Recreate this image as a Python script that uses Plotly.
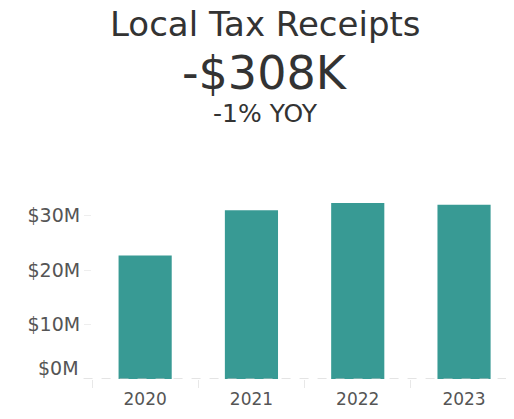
import plotly.graph_objects as go

years = ["2020", "2021", "2022", "2023"]
receipts = [22.7e6, 31.0e6, 32.35e6, 32.04e6]
ytick_vals = [10e6, 20e6, 30e6]
ytick_text = ["$10M", "$20M", "$30M"]
title_text = "Local Tax Receipts"
delta_text = "-$308K"
pct_text = "-1% YOY"

FONT = "DejaVu Sans"
BAR = "#389a94"

fig = go.Figure()
fig.add_trace(go.Bar(x=years, y=receipts, marker=dict(color=BAR, line=dict(width=0)),
                     hovertemplate="%{x}: %{y:$,.0f}<extra></extra>"))

def py(p):
    return (379 - p) / 185.0

XC = (265 - 92) / 422

fig.update_layout(
    width=514, height=419,
    margin=dict(l=84, r=8, t=186, b=48),
    paper_bgcolor="white", plot_bgcolor="white",
    showlegend=False, bargap=0.5,
    font=dict(family=FONT, color="#555555"),
    xaxis=dict(range=[-0.5, 3.47], showgrid=False, zeroline=False, showline=False,
               ticks="outside", tickson="boundaries", ticklen=8, tickcolor="#e8e8e8",
               ticklabelstandoff=8,
               tickfont=dict(size=17, color="#555555", family=FONT)),
    yaxis=dict(range=[0, 34e6], showgrid=False, zeroline=False, showline=False,
               tickvals=ytick_vals, ticktext=ytick_text, ticks="outside", ticklen=7,
               tickcolor="#eeeeee", tickfont=dict(size=19, color="#555555", family=FONT)),
    shapes=[dict(type="line", xref="paper", yref="y", x0=-0.02, x1=1, y0=0, y1=0,
                 line=dict(color="#c8c8c8", width=1, dash="dash"))],
    annotations=[
        dict(text=title_text, xref="paper", yref="paper", x=XC, y=py(24),
             xanchor="center", yanchor="middle", showarrow=False,
             font=dict(size=34, color="#333333", family=FONT)),
        dict(text=delta_text, xref="paper", yref="paper", x=XC, y=py(73),
             xanchor="center", yanchor="middle", showarrow=False,
             font=dict(size=46, color="#333333", family=FONT)),
        dict(text=pct_text, xref="paper", yref="paper", x=XC, y=py(113),
             xanchor="center", yanchor="middle", showarrow=False,
             font=dict(size=25, color="#333333", family=FONT)),
        dict(text="$0M", xref="paper", yref="y", x=0, y=0, xanchor="right", yanchor="middle",
             xshift=-11, yshift=11, showarrow=False,
             font=dict(size=19, color="#555555", family=FONT)),
    ],
)

fig.write_html("out.html")
